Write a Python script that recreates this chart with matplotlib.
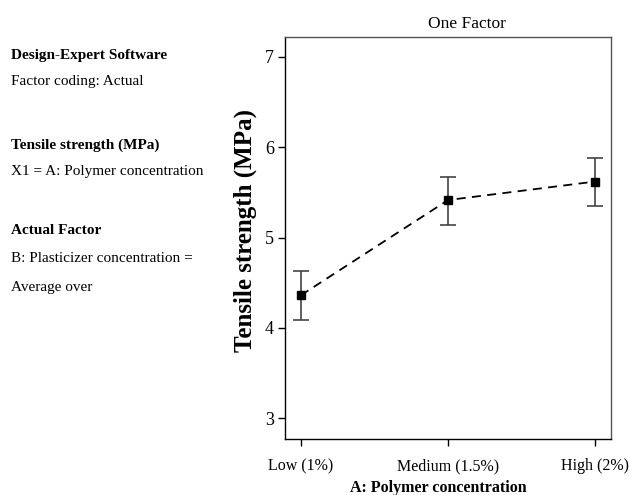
import matplotlib
matplotlib.use("Agg")
from matplotlib import pyplot as plt

# one-factor effect plot: tensile strength vs polymer concentration
levels = ["Low (1%)", "Medium (1.5%)", "High (2%)"]
strength = [4.36, 5.415, 5.62]
err_low = [0.27, 0.275, 0.275]
err_high = [0.27, 0.26, 0.26]

info_lines = [
    ("Design-Expert Software", True),
    ("Factor coding: Actual", False),
    ("Tensile strength (MPa)", True),
    ("X1 = A: Polymer concentration", False),
    ("Actual Factor", True),
    ("B: Plasticizer concentration =", False),
    ("Average over", False),
]
info_y = [55, 82, 145, 172, 230, 259, 288]

plt.rcParams["font.family"] = ["Liberation Serif", "DejaVu Serif"]

W, H = 630, 495
fig = plt.figure(figsize=(W / 100, H / 100), dpi=100)
ax = fig.add_axes([285 / W, 1 - 439 / H, (611 - 285) / W, (439 - 37) / H])

x = list(range(len(levels)))
ax.plot(x, strength, color="black", lw=1.3, dashes=(5, 3.5), zorder=2)
ax.errorbar(x, strength, yerr=[err_low, err_high], fmt="none",
            ecolor="#444444", elinewidth=1.2, capsize=6, capthick=1.2, zorder=3)
ax.plot(x, strength, ls="none", marker="s", ms=6, color="black", zorder=4)

ax.set_xlim(-0.107, 2.107)
ax.set_ylim(2.77, 7.22)
ax.set_xticks(x)
ax.set_xticklabels(levels, fontsize=11.5, va="baseline")
ax.set_yticks([3, 4, 5, 6, 7])
ax.tick_params(axis="both", direction="out", length=5, width=1)
ax.tick_params(axis="x", labelsize=11.5, pad=17.5)
ax.tick_params(axis="y", labelsize=13, pad=3)

for side in ["top", "right"]:
    ax.spines[side].set_color("#555555")
for side in ax.spines:
    ax.spines[side].set_linewidth(1.0)

fig.text(245 / W, 1 - 230 / H, "Tensile strength (MPa)", rotation=90,
         ha="center", va="center", fontsize=18, fontweight="bold")
fig.text(438 / W, 1 - 492 / H, "A: Polymer concentration", ha="center",
         va="baseline", fontsize=11.5, fontweight="bold")
fig.text(467 / W, 1 - 24 / H, "One Factor", ha="center", va="center",
         fontsize=12.5)

for (txt, bold), yy in zip(info_lines, info_y):
    fig.text(11 / W, 1 - yy / H, txt, ha="left", va="center", fontsize=11,
             fontweight="bold" if bold else "normal")

fig.savefig("out.png", dpi=100)
